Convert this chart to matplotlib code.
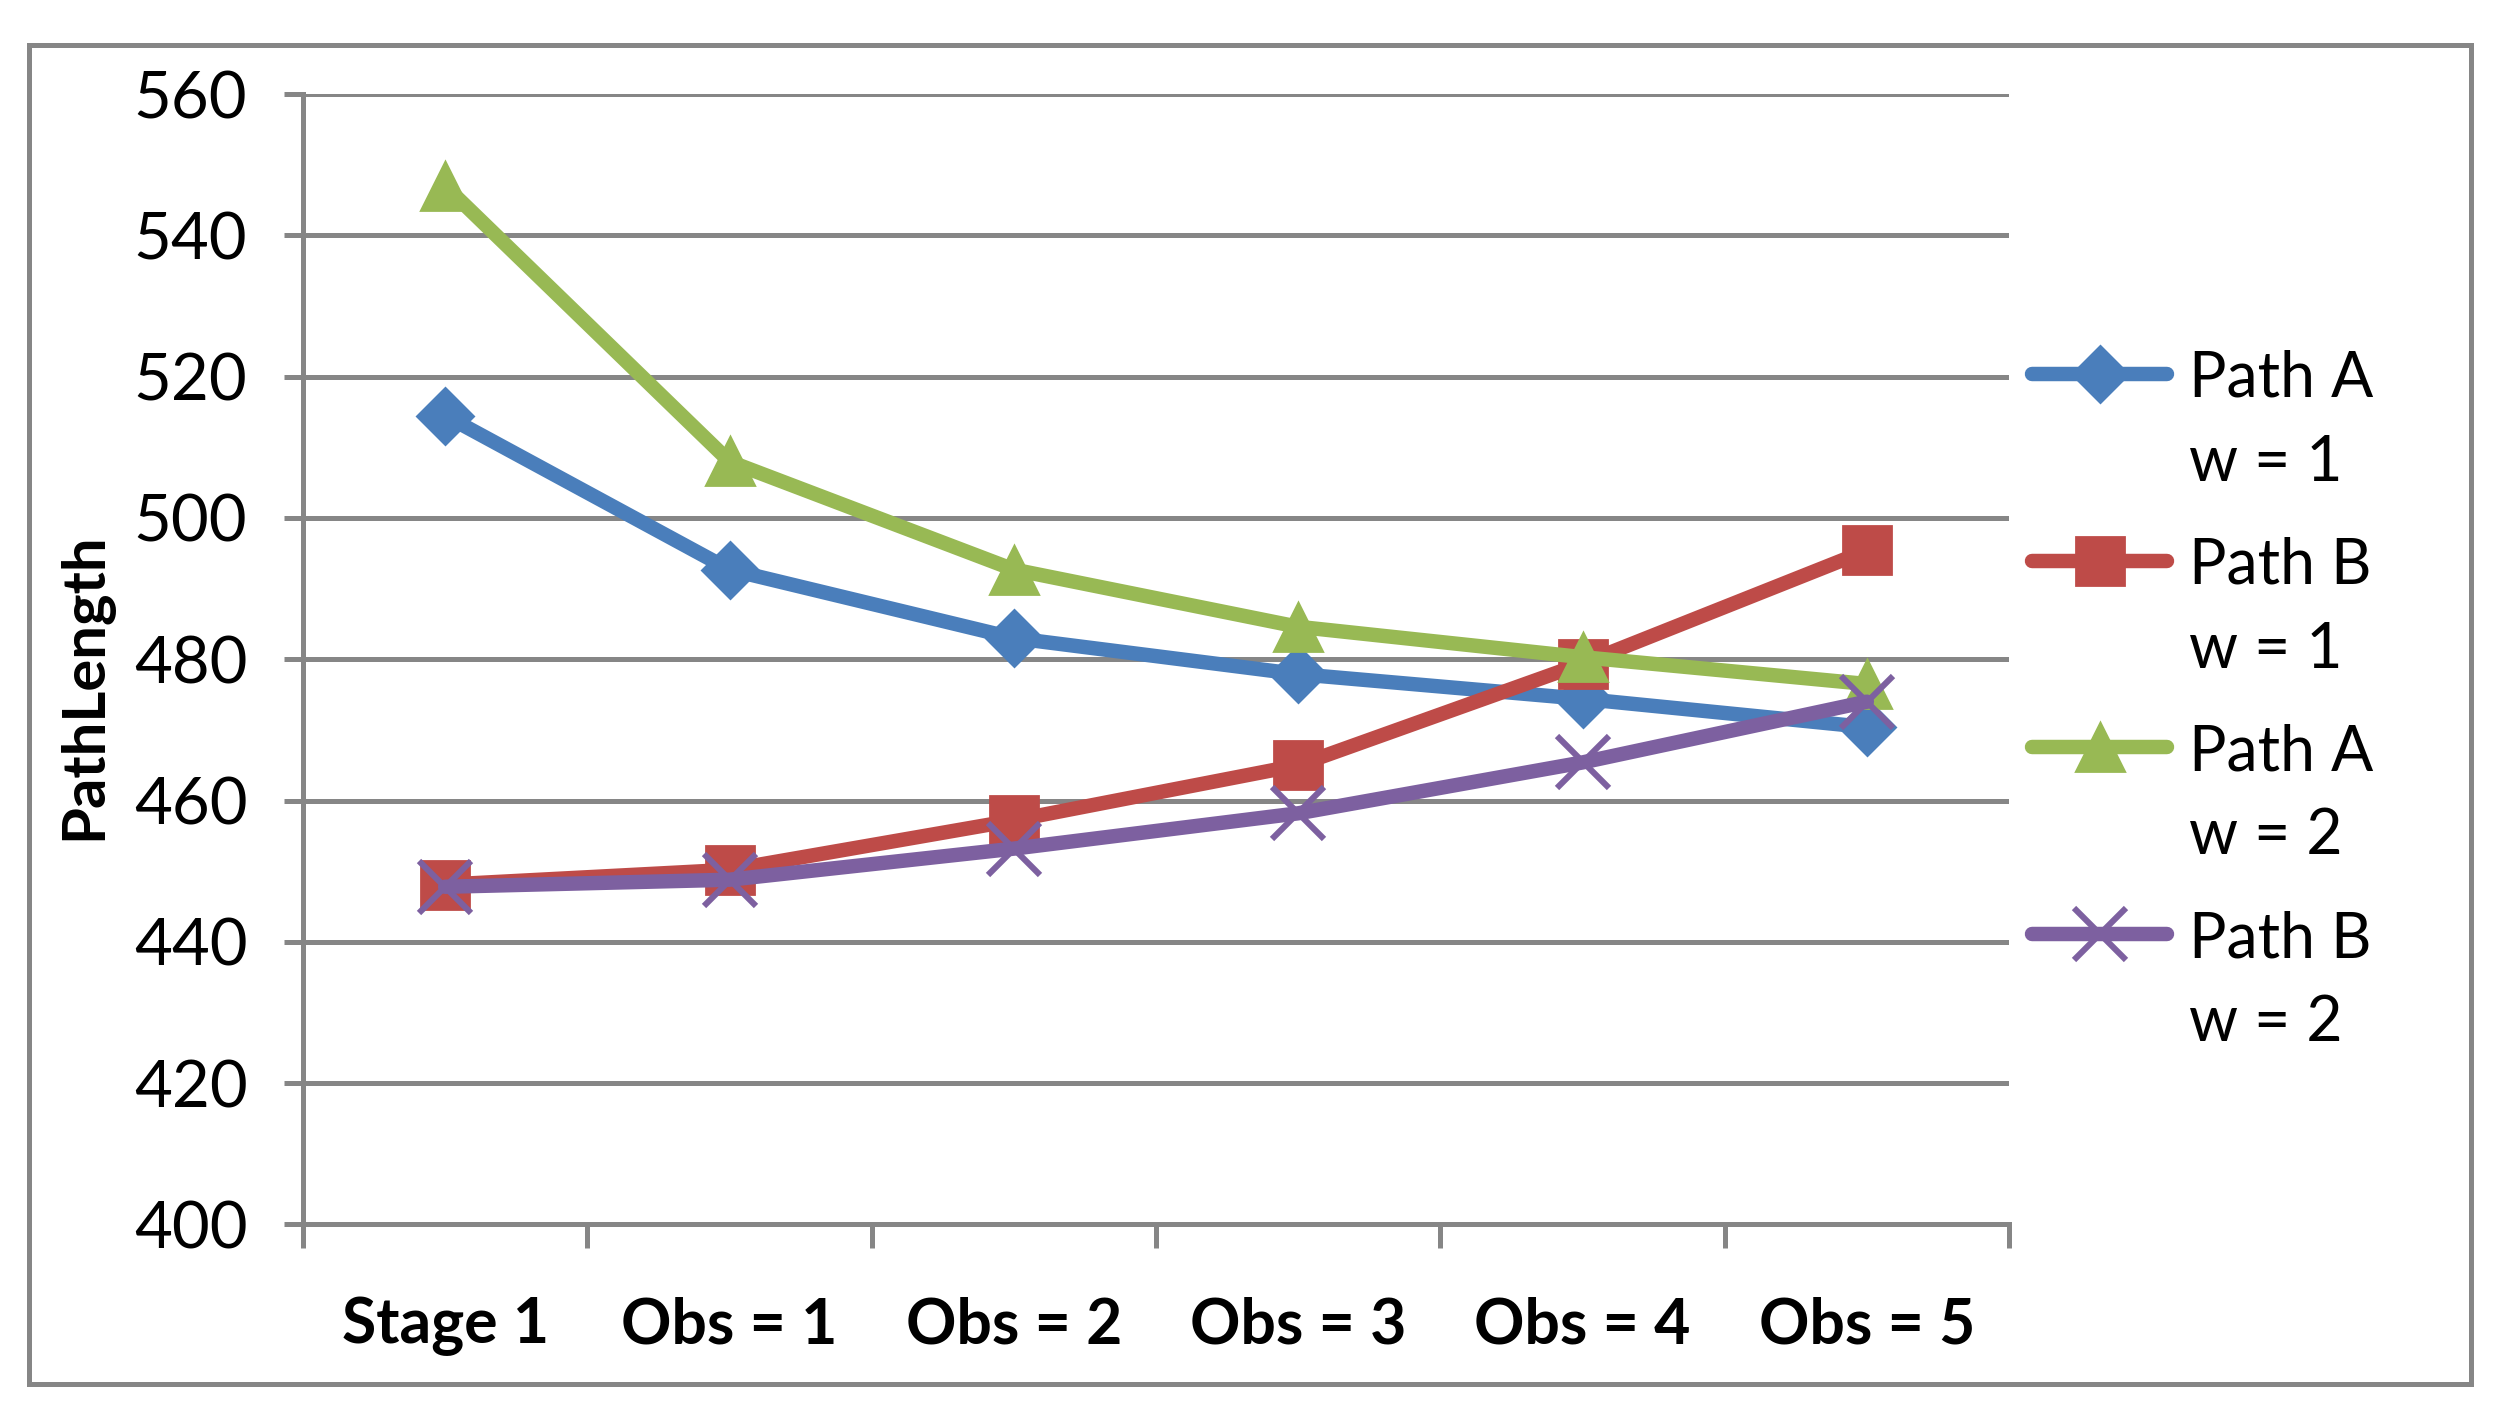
import numpy as np
import matplotlib.pyplot as plt
from matplotlib.legend_handler import HandlerLine2D
from matplotlib.patches import Rectangle

# values
categories = ['Stage 1', 'Obs = 1', 'Obs = 2', 'Obs = 3', 'Obs = 4', 'Obs = 5']
path_a_w1 = [514.5, 492.7, 483.0, 477.9, 474.4, 470.4]
path_b_w1 = [448.1, 450.2, 457.2, 465.0, 479.4, 495.4]
path_a_w2 = [547.0, 508.0, 492.7, 484.6, 480.3, 476.5]
path_b_w2 = [447.8, 448.8, 453.2, 458.2, 465.4, 474.0]
labels = ['Path A\nw = 1', 'Path B\nw = 1', 'Path A\nw = 2', 'Path B\nw = 2']
yticks = [400, 420, 440, 460, 480, 500, 520, 540, 560]

plt.rcParams['font.family'] = ['Lato', 'DejaVu Sans']

GRID = '#868686'
colors = ['#4A7EBB', '#BE4B48', '#98B954', '#7D60A0']
markers = ['D', 's', '^', 'x']
sizes = [14.5, 17.5, 17.5, 18.5]


class TopHandler(HandlerLine2D):
    # put the legend line level with the first line of the two-line label
    def create_artists(self, legend, orig_handle, xdescent, ydescent,
                       width, height, fontsize, trans):
        arts = super().create_artists(legend, orig_handle, xdescent, ydescent,
                                      width, height, fontsize, trans)
        for a in arts:
            a.set_ydata(np.asarray(a.get_ydata()) + 0.78 * fontsize)
        return arts


fig = plt.figure(figsize=(12.5, 7.055), dpi=200)
ax = fig.add_axes([0.1212, 0.1322, 0.6824, 0.8011])

x = np.arange(len(categories)) + 0.5
series = [path_a_w1, path_b_w1, path_a_w2, path_b_w2]
lines = []
for vals, c, m, s, lab in zip(series, colors, markers, sizes, labels):
    ln, = ax.plot(x, vals, color=c, lw=5.2, marker=m, ms=s, mfc=c, mec=c,
                  mew=2.2 if m == 'x' else 1, label=lab, zorder=3,
                  solid_capstyle='round')
    lines.append(ln)

ax.set_xlim(0, len(categories))
ax.set_ylim(400, 560)
ax.set_yticks(yticks)
ax.yaxis.grid(True, color=GRID, lw=1.8)
ax.set_axisbelow(True)

ax.set_xticks(np.arange(len(categories) + 1))
ax.set_xticklabels([])
ax.set_xticks(x, minor=True)
ax.set_xticklabels(categories, minor=True, fontsize=22.5, fontweight='bold')
ax.tick_params(axis='x', which='major', length=8.5, width=1.8, color=GRID)
ax.tick_params(axis='x', which='minor', length=0, pad=26)
ax.tick_params(axis='y', length=7, width=1.8, color=GRID, labelsize=23.5, pad=13)

for side in ['top', 'right']:
    ax.spines[side].set_visible(False)
for side in ['left', 'bottom']:
    ax.spines[side].set_color(GRID)
    ax.spines[side].set_linewidth(1.8)

ax.set_ylabel('PathLength', fontsize=21.5, fontweight='bold')
ax.yaxis.set_label_coords(-0.112, 0.476)

leg = fig.legend(handles=lines, loc='upper left', bbox_to_anchor=(0.813, 0.752),
                 frameon=False, fontsize=22.5, handlelength=2.15,
                 handletextpad=0.35, labelspacing=0.72, borderpad=0,
                 borderaxespad=0, handler_map={ln: TopHandler() for ln in lines})
for t in leg.get_texts():
    t.set_linespacing(1.55)

fig.patches.append(Rectangle((0.0115, 0.0192), 0.9770, 0.9492,
                             transform=fig.transFigure, fill=False,
                             edgecolor=GRID, lw=1.8))

fig.savefig('out.png', dpi=200)
